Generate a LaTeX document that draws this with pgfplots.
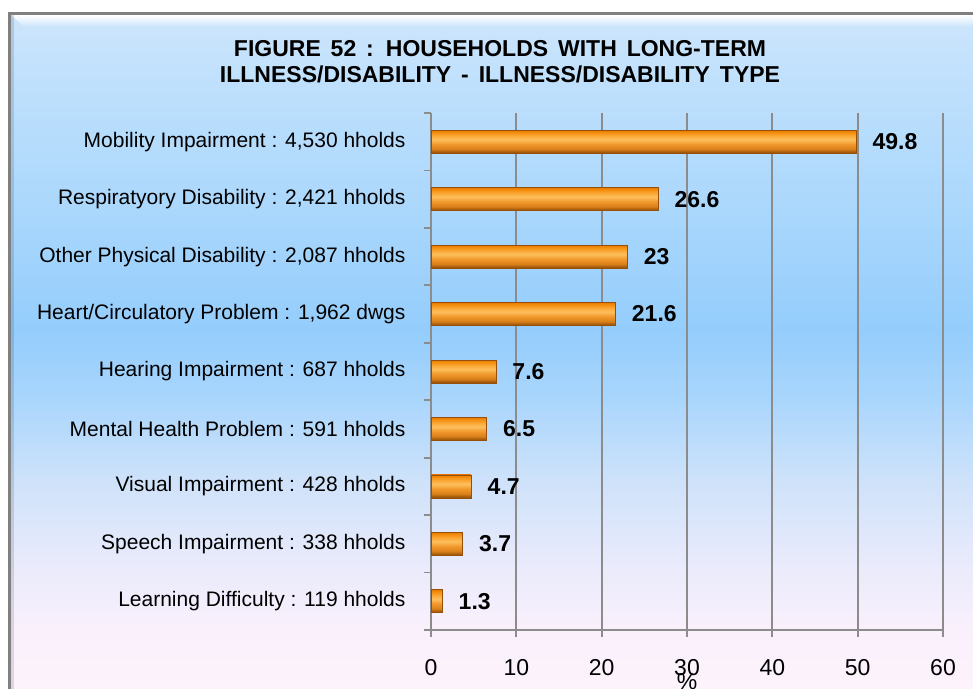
\documentclass[border=0pt]{standalone}
\usepackage{pgfplots}
\pgfplotsset{compat=1.18}
\usepackage{fontspec}
\setmainfont{Liberation Sans}
\newfontfamily\titlefont{Liberation Sans}[WordSpace=1.55]
\definecolor{axgray}{RGB}{140,140,140}
\definecolor{framegray}{RGB}{128,128,128}
\definecolor{bg1}{RGB}{253,243,252}
\definecolor{bg2}{RGB}{250,240,252}
\definecolor{bg3}{RGB}{232,234,251}
\definecolor{bg4}{RGB}{206,226,250}
\definecolor{bg5}{RGB}{170,214,252}
\definecolor{bg6}{RGB}{148,205,252}
\definecolor{bg7}{RGB}{172,216,252}
\definecolor{bg8}{RGB}{188,223,252}
\definecolor{bg9}{RGB}{202,228,252}
\definecolor{b1}{RGB}{150,80,8}
\definecolor{b2}{RGB}{217,128,26}
\definecolor{b3}{RGB}{240,150,42}
\definecolor{b4}{RGB}{253,191,92}
\definecolor{b5}{RGB}{251,171,60}
\definecolor{b6}{RGB}{245,144,15}
\definecolor{b7}{RGB}{232,122,5}
\pgfdeclareverticalshading{bgshade}{100bp}{color(0bp)=(bg1); color(25.9bp)=(bg1); color(30.1bp)=(bg2); color(35.2bp)=(bg3); color(41bp)=(bg4); color(46.8bp)=(bg5); color(51.9bp)=(bg6); color(61.4bp)=(bg7); color(68.7bp)=(bg8); color(73.8bp)=(bg9); color(100bp)=(bg9)}
\pgfdeclareverticalshading{barshade}{100bp}{color(0bp)=(b1); color(26bp)=(b1); color(34bp)=(b2); color(44bp)=(b3); color(55bp)=(b4); color(62bp)=(b5); color(70bp)=(b6); color(75bp)=(b7); color(100bp)=(b7)}
\pgfplotsset{mybar/.style={xbar, bar width=23pt, bar shift=0pt, shade, shading=barshade, draw=b1, line width=0.6pt}}
\begin{document}
\begin{tikzpicture}
\path[use as bounding box] (0pt,0pt) rectangle (973pt,688pt);
\clip (0pt,0pt) rectangle (973pt,688pt);
\fill[white] (0pt,0pt) rectangle (973pt,688pt);
\shade[shading=bgshade] (10pt,-12pt) rectangle (990pt,675pt);
\shade[top color=white, bottom color=bg9] (11pt,673pt) -- (990pt,673pt) -- (990pt,661pt) -- (24pt,661pt) -- cycle;
\fill[black, opacity=0.12] (11pt,-12pt) rectangle (14pt,673pt);
\draw[framegray, line width=3pt] (9.5pt,-12pt) -- (9.5pt,674.5pt) -- (990pt,674.5pt);
\node[anchor=base, font=\titlefont\bfseries\fontsize{23}{26}\selectfont] at (500pt,631.3pt) {FIGURE 52 : HOUSEHOLDS WITH LONG-TERM};
\node[anchor=base, font=\titlefont\bfseries\fontsize{23}{26}\selectfont] at (500pt,605pt) {ILLNESS/DISABILITY - ILLNESS/DISABILITY TYPE};
\begin{axis}[
  at={(431pt,58pt)}, anchor=south west,
  scale only axis, width=512pt, height=517pt,
  xmin=0, xmax=60, ymin=-0.5, ymax=8.5,
  axis x line*=bottom, axis y line*=left,
  axis line style={draw=axgray, line width=2pt},
  xtick={0,10,...,60},
  ytick={0,...,8},
  yticklabels={Learning Difficulty : 119 hholds, Speech Impairment : 338 hholds, Visual Impairment : 428 hholds, Mental Health Problem : 591 hholds, Hearing Impairment : 687 hholds, Heart/Circulatory Problem : 1{,}962 dwgs, Other Physical Disability : 2{,}087 hholds, Respiratyory Disability : 2{,}421 hholds, Mobility Impairment : 4{,}530 hholds},
  minor ytick={-0.5,0.5,...,8.5},
  tick align=outside,
  major tick length=7pt, minor tick length=7pt,
  tick style={draw=axgray, line width=1.8pt},
  major y tick style={draw=none},
  xmajorgrids, grid style={draw=axgray, line width=2pt},
  /pgf/number format/assume math mode=true,
  yticklabel style={font=\fontsize{21}{24}\selectfont, xshift=-15pt},
  xticklabel style={font=\fontsize{23}{26}\selectfont, yshift=-19pt},
  xlabel={\%},
  xlabel style={at={(axis description cs:0.5,0)}, anchor=north, yshift=-40pt, font=\fontsize{23}{26}\selectfont},
  nodes near coords, point meta=explicit symbolic,
  nodes near coords style={font=\bfseries\fontsize{23}{26}\selectfont, anchor=west, xshift=13pt},
]
\addplot[mybar] coordinates {(1.3,0) [1.3]};
\addplot[mybar] coordinates {(3.7,1) [3.7]};
\addplot[mybar] coordinates {(4.7,2) [4.7]};
\addplot[mybar] coordinates {(6.5,3) [6.5]};
\addplot[mybar] coordinates {(7.6,4) [7.6]};
\addplot[mybar] coordinates {(21.6,5) [21.6]};
\addplot[mybar] coordinates {(23,6) [23]};
\addplot[mybar] coordinates {(26.6,7) [26.6]};
\addplot[mybar] coordinates {(49.8,8) [49.8]};
\end{axis}
\end{tikzpicture}
\end{document}
